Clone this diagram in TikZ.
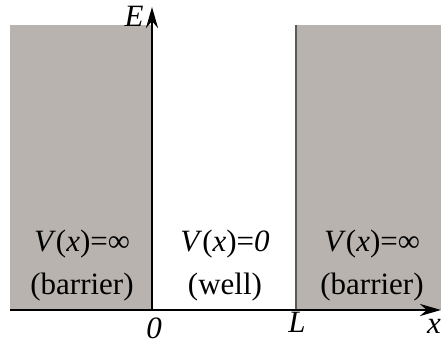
\documentclass[tikz,border=0pt]{standalone}
\usepackage{fontspec}
\setmainfont{Liberation Serif}
\usetikzlibrary{arrows.meta}
\definecolor{barriergray}{RGB}{184,179,174}

\begin{document}
\begin{tikzpicture}[x=1pt, y=1pt, font=\fontsize{31}{35}\selectfont,
    axis/.style={line width=2.6pt, -{Stealth[length=21pt, width=12pt]}},
    lbl/.style={anchor=base, inner sep=0pt}]
    \useasboundingbox (0,0) rectangle (441,345);

    % Barrier regions
    \fill[barriergray] (10,35) rectangle (152,320);
    \fill[barriergray] (296,35) rectangle (441,320);
    \draw[line width=1.2pt, black!65] (296,35) -- (296,320);

    % Axes
    \coordinate (xstart) at (10,35);
    \coordinate (origin) at (152,35);
    \coordinate (xend)   at (441,35);
    \coordinate (eend)   at (152,338);
    \draw[axis] (xstart) -- (xend);
    \draw[axis] (origin) -- (eend);

    % Axis labels
    \node[lbl] (elabel) at (134,318) {\textit{E}};
    \node[lbl] (xlabel) at (434,12) {\textit{x}};
    \node[lbl] (zero)   at (154,7)  {\textit{0}};
    \node[lbl] (ell)    at (297,13) {\textit{L}};

    % Potential labels
    \node[lbl] (vleft)  at (82,93)  {\textit{V}(\textit{x})=∞};
    \node[lbl] (bleft)  at (82,50)  {(barrier)};
    \node[lbl] (vwell)  at (225,93) {\textit{V}(\textit{x})=\textit{0}};
    \node[lbl] (bwell)  at (225,50) {(well)};
    \node[lbl] (vright) at (372,93) {\textit{V}(\textit{x})=∞};
    \node[lbl] (bright) at (372,50) {(barrier)};
\end{tikzpicture}
\end{document}
